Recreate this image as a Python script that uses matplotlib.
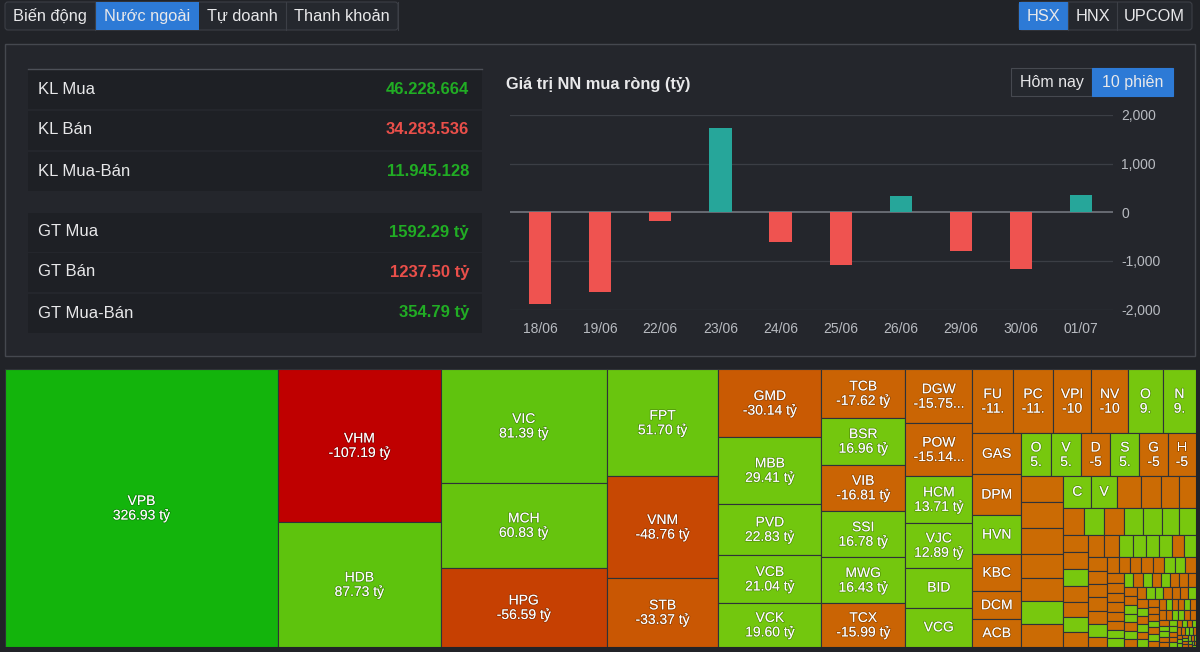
"""Foreign-investor dashboard: stats table, 10-session net bar chart, net-value treemap."""
import matplotlib
matplotlib.use("Agg")
import matplotlib.pyplot as plt
import matplotlib.patheffects as pe
from matplotlib.patches import Rectangle, FancyBboxPatch
from matplotlib.ticker import FuncFormatter

plt.rcParams["font.family"] = ["Liberation Sans", "DejaVu Sans"]

W_PX, H_PX = 1200, 652

# ---- data -------------------------------------------------------------
TABS = ["Biến động", "Nước ngoài", "Tự doanh", "Thanh khoản"]
EXCHANGES = ["HSX", "HNX", "UPCOM"]
PERIODS = ["Hôm nay", "10 phiên"]

STAT_LABELS = ["KL Mua", "KL Bán", "KL Mua-Bán", "GT Mua", "GT Bán", "GT Mua-Bán"]
STAT_VALUES = ["46.228.664", "34.283.536", "11.945.128",
               "1592.29 tỷ", "1237.50 tỷ", "354.79 tỷ"]
STAT_SIGN = [1, -1, 1, 1, -1, 1]

DATES = ["18/06", "19/06", "22/06", "23/06", "24/06",
         "25/06", "26/06", "29/06", "30/06", "01/07"]
NET_VALUES = [-1890, -1640, -170, 1730, -615, -1080, 330, -790, -1170, 355]

TICKERS = ["VPB", "VHM", "HDB", "VIC", "MCH", "HPG", "FPT", "VNM", "STB", "GMD",
           "MBB", "PVD", "VCB", "VCK", "TCB", "BSR", "VIB", "SSI", "MWG", "TCX",
           "DGW", "POW", "HCM", "VJC", "BID", "VCG", "FU", "PC", "VPI", "NV",
           "O", "N", "GAS", "DPM", "HVN", "KBC", "DCM", "ACB",
           "O", "V", "D", "S", "G", "H"]
VALUES = [326.93, -107.19, 87.73, 81.39, 60.83, -56.59, 51.70, -48.76, -33.37, -30.14,
          29.41, 22.83, 21.04, 19.60, -17.62, 16.96, -16.81, 16.78, 16.43, -15.99,
          -15.75, -15.14, 13.71, 12.89, 11.60, 11.40, -11.25, -11.05, -10.60, -10.20,
          9.60, 9.20, -8.60, -8.50, 8.25, -7.70, -5.90, -5.80,
          5.50, 5.45, -5.40, 5.30, -5.20, -5.15]

# small unlabeled tiles (only "C" and "V" show a name)
SMALL_TICKERS = ["", "", "", "", "", "", "", "C", "V"]
SMALL_VALUES = [-4.80, -4.75, -4.60, -4.40, -4.30, 4.20, -4.10,
                3.90, 3.50, -3.30, -2.85, -2.40, -2.40,
                -2.40, 2.35, -2.30, 2.20, 2.10, 2.00, 1.95,
                -1.90, -1.80, 1.75, -1.70, -1.65, 1.60, -1.60,
                -1.50, -1.40, 1.35, 1.30, 1.20, 1.20, -1.15,
                1.15, -1.15, -1.10, -1.10, -1.10, -1.05, 1.05,
                -0.85, -0.82, -0.80, -0.80, -0.78, -0.78, 0.77, 0.76,
                -0.74, -0.72, -0.71, -0.69, -0.68, -0.66, -0.65,
                0.64, 0.62, 0.61, -0.60, 0.59, -0.57, 0.56, -0.55, -0.54,
                -0.52, -0.51, -0.50, 0.50, 0.49, -0.48, 0.47, -0.46, -0.45, 0.45, 0.44,
                -0.43, -0.42, -0.42, 0.41, -0.40, 0.39, -0.38, 0.38, -0.37, 0.36, -0.35,
                -0.35, -0.34, 0.33, -0.32, 0.32, -0.31, -0.30, 0.30, -0.30, -0.29, 0.28,
                -0.28, -0.27, -0.26, 0.26, 0.25, -0.24, -0.24, -0.23, 0.22, 0.22, -0.21,
                -0.20, 0.20, 0.19, -0.18, -0.18, 0.17, -0.16, 0.16, -0.15, 0.14, -0.14,
                -0.13, 0.12, 0.12, -0.11, -0.10, 0.10, 0.09, -0.09, 0.08, -0.08, -0.07,
                0.07, -0.06, 0.06, 0.05, -0.05, 0.04, -0.03, 0.03]

# ---- style ------------------------------------------------------------
BG = "#212328"
PANEL = "#24262c"
ROW_BG = "#1e2025"
BORDER = "#3c3f46"
BLUE = "#2d7ad6"
TXT = "#e8e8ea"
MUTED = "#b8bbc1"
UP = "#21ad24"
DOWN = "#ea4f4a"
BAR_UP = "#26a69a"
BAR_DOWN = "#ef5350"
TILE_FS = 10
PHI = (1 + 5 ** 0.5) / 2


def px_rect(x, y, w, h):
    return [x / W_PX, 1 - (y + h) / H_PX, w / W_PX, h / H_PX]


# ---- squarified treemap (golden-ratio variant) -------------------------
def squarify(values, x0, y0, x1, y1, ratio=PHI):
    rects = []
    value = sum(values)
    i0, n = 0, len(values)
    while i0 < n:
        dx, dy = x1 - x0, y1 - y0
        s = mn = mx = values[i0]
        i1 = i0 + 1
        alpha = max(dy / dx, dx / dy) / (value * ratio)
        beta = s * s * alpha
        best = max(mx / beta, beta / mn)
        while i1 < n:
            nv = values[i1]
            s2, mn2, mx2 = s + nv, min(mn, nv), max(mx, nv)
            beta = s2 * s2 * alpha
            r = max(mx2 / beta, beta / mn2)
            if r > best:
                break
            s, mn, mx, best = s2, mn2, mx2, r
            i1 += 1
        row = values[i0:i1]
        if dx < dy:
            h = dy * s / value
            xx = x0
            for v in row:
                w = dx * v / s
                rects.append((xx, y0, w, h))
                xx += w
            y0 += h
        else:
            w = dx * s / value
            yy = y0
            for v in row:
                h = dy * v / s
                rects.append((x0, yy, w, h))
                yy += h
            x0 += w
        value -= s
        i0 = i1
    return rects


def mix(c1, c2, t):
    a = [int(c1[i:i + 2], 16) for i in (1, 3, 5)]
    b = [int(c2[i:i + 2], 16) for i in (1, 3, 5)]
    return "#" + "".join(f"{round(p + (q - p) * t):02x}" for p, q in zip(a, b))


def tile_color(v):
    if v >= 0:
        return mix("#79c80e", "#12b40c", min(v / 330, 1))
    return mix("#cb6c04", "#bf0000", min(-v / 107.2, 1) ** 1.4)


# ---- figure -----------------------------------------------------------
fig = plt.figure(figsize=(W_PX / 100, H_PX / 100), dpi=100, facecolor=BG)
bg = fig.add_axes([0, 0, 1, 1])
bg.set_xlim(0, W_PX); bg.set_ylim(H_PX, 0); bg.axis("off")

# tabs
tab_w = [90, 104, 87, 112]
x0 = 5
bg.add_patch(FancyBboxPatch((x0, 2), sum(tab_w), 28, boxstyle="round,pad=0,rounding_size=3",
                            fc="#25282e", ec=BORDER, lw=0.8))
for name, w in zip(TABS, tab_w):
    if name == "Nước ngoài":
        bg.add_patch(Rectangle((x0, 2), w, 28, fc=BLUE, ec="none"))
    else:
        bg.plot([x0 + w, x0 + w], [2, 30], color=BORDER, lw=0.8)
    bg.text(x0 + w / 2, 16.5, name, color=TXT, fontsize=11.8, ha="center", va="center")
    x0 += w

ex_w = [49, 49, 75]
x0 = 1019
bg.add_patch(FancyBboxPatch((x0, 2), sum(ex_w), 28, boxstyle="round,pad=0,rounding_size=3",
                            fc="#25282e", ec=BORDER, lw=0.8))
for name, w in zip(EXCHANGES, ex_w):
    if name == "HSX":
        bg.add_patch(Rectangle((x0, 2), w, 28, fc=BLUE, ec="none"))
    else:
        bg.plot([x0, x0], [2, 30], color=BORDER, lw=0.8)
    bg.text(x0 + w / 2, 16.5, name, color=TXT, fontsize=11.8, ha="center", va="center")
    x0 += w

# main panel
bg.add_patch(Rectangle((5, 44), 1190, 312, fc=PANEL, ec="#45484f", lw=1))

# stats table
bg.plot([28, 482], [68.5, 68.5], color="#4d5058", lw=1)
row_y = [89, 130, 171, 232, 272, 313]
for lab, val, sgn, cy in zip(STAT_LABELS, STAT_VALUES, STAT_SIGN, row_y):
    bg.add_patch(Rectangle((28, cy - 19.5), 454, 39, fc=ROW_BG, ec="none"))
    bg.text(38, cy, lab, color=TXT, fontsize=12, ha="left", va="center")
    bg.text(469, cy, val, color=UP if sgn > 0 else DOWN, fontsize=12,
            fontweight="bold", ha="right", va="center")

# bar chart header
bg.text(506, 84, "Giá trị NN mua ròng (tỷ)", color=TXT, fontsize=11.8,
        fontweight="bold", ha="left", va="center")
x0 = 1011
for name in PERIODS:
    active = name == "10 phiên"
    bg.add_patch(Rectangle((x0, 68), 81, 28, fc=BLUE if active else "#25282e",
                           ec=BLUE if active else "#464950", lw=0.8))
    bg.text(x0 + 40.5, 82.5, name, color=TXT, fontsize=11.5, ha="center", va="center")
    x0 += 81

# bar chart
ax = fig.add_axes(px_rect(510, 115, 603, 194.5))
ax.set_facecolor("none")
xs = list(range(len(DATES)))
ax.bar(xs, NET_VALUES, width=0.37,
       color=[BAR_UP if v >= 0 else BAR_DOWN for v in NET_VALUES], zorder=3)
ax.set_xlim(-0.5, 9.53)
ax.set_ylim(-2000, 2000)
for yv in (-2000, -1000, 1000, 2000):
    ax.axhline(yv, color="#3b3e45", lw=0.9, zorder=1)
ax.axhline(0, color="#6d7078", lw=1.3, zorder=2)
ax.set_yticks([-2000, -1000, 0, 1000, 2000])
ax.yaxis.set_major_formatter(FuncFormatter(lambda v, _: f"{v:,.0f}"))
ax.yaxis.tick_right()
ax.set_xticks(xs)
ax.set_xticklabels(DATES)
ax.tick_params(axis="both", length=0, colors=MUTED, labelsize=10)
ax.tick_params(axis="y", pad=6)
ax.tick_params(axis="x", pad=9)
for lbl in ax.get_yticklabels():
    lbl.set_horizontalalignment("left")
for s in ax.spines.values():
    s.set_visible(False)

# treemap
TM_X, TM_Y, TM_W, TM_H = 5, 369, 1191, 278
tm = fig.add_axes(px_rect(TM_X, TM_Y, TM_W, TM_H))
tm.set_xlim(0, TM_W); tm.set_ylim(TM_H, 0); tm.axis("off")

names = TICKERS + SMALL_TICKERS + [""] * (len(SMALL_VALUES) - len(SMALL_TICKERS))
vals = VALUES + SMALL_VALUES
order = sorted(range(len(vals)), key=lambda i: -abs(vals[i]))
names = [names[i] for i in order]
vals = [vals[i] for i in order]
rects = squarify([abs(v) for v in vals], 0, 0, TM_W, TM_H)

renderer = fig.canvas.get_renderer()


def text_w(s):
    t = tm.text(0, 0, s, fontsize=TILE_FS)
    w = t.get_window_extent(renderer).width
    t.remove()
    return w


def fit(s, maxw):
    if text_w(s) <= maxw:
        return s
    for n in range(len(s) - 1, 3, -1):
        t = s[:n].rstrip() + "..."
        if text_w(t) <= maxw:
            return t
    for n in range(len(s) - 1, 0, -1):
        if text_w(s[:n]) <= maxw:
            return s[:n]
    return ""


shadow = [pe.withStroke(linewidth=1.2, foreground=(0, 0, 0, 0.25))]
for name, v, (x, y, w, h) in zip(names, vals, rects):
    tm.add_patch(Rectangle((x, y), w, h, fc=tile_color(v), ec="#2f3238", lw=0.8))
    if not name:
        continue
    cx, cy = x + w / 2, y + h / 2
    if h >= 42:
        pad = 15 if w > 50 else min(16, w / 2)
        tm.text(cx, cy - 7, name, color="white", fontsize=TILE_FS, ha="center",
                va="center", path_effects=shadow)
        tm.text(cx, cy + 7.5, fit(f"{v:.2f} tỷ", w - pad), color="white", fontsize=TILE_FS,
                ha="center", va="center", path_effects=shadow)
    else:
        tm.text(cx, cy, name, color="white", fontsize=TILE_FS, ha="center",
                va="center", path_effects=shadow)

fig.savefig("out.png", dpi=100, facecolor=BG)
